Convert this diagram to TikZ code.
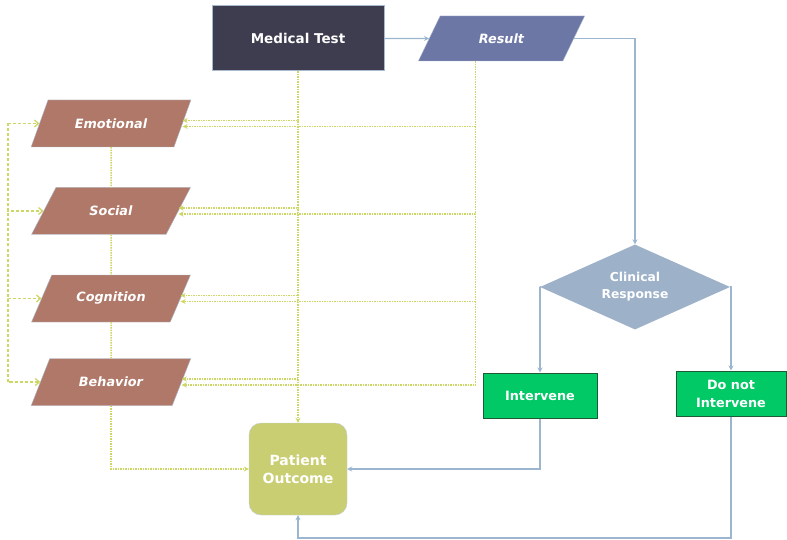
\documentclass[tikz,border=0pt]{standalone}
\usepackage{fontspec}
\setmainfont{DejaVu Sans}
\usepackage{tikz}
\usetikzlibrary{calc,shapes.geometric,arrows.meta,positioning}

\definecolor{testdark}{HTML}{3D3D4F}
\definecolor{resultblue}{HTML}{6C77A6}
\definecolor{factorbrown}{HTML}{B07868}
\definecolor{decisionblue}{HTML}{9DB1C9}
\definecolor{actgreen}{HTML}{00C965}
\definecolor{actedge}{HTML}{1E5A34}
\definecolor{outcomeolive}{HTML}{C9CE72}
\definecolor{flowblue}{HTML}{9CB6CF}
\definecolor{feedlime}{HTML}{CDD766}
\definecolor{edgegray}{HTML}{A9B9CD}

\begin{document}
\begin{tikzpicture}[x=1pt,y=-1pt]

\tikzset{
  testbox/.style={rectangle, draw=edgegray, line width=1pt, fill=testdark, text=white,
                  font=\bfseries\fontsize{13.5}{16}\selectfont,
                  minimum width=172pt, minimum height=65pt},
  resultbox/.style={trapezium, trapezium left angle=55, trapezium right angle=125,
                  trapezium stretches=true, draw=edgegray, fill=resultblue, text=white,
                  font=\bfseries\itshape\fontsize{12.8}{15}\selectfont, inner sep=1pt,
                  minimum width=167pt, minimum height=45pt},
  factor/.style={trapezium, trapezium left angle=50, trapezium right angle=130,
                  trapezium stretches=true, draw=edgegray, fill=factorbrown, text=white,
                  font=\bfseries\itshape\fontsize{12.8}{15}\selectfont, inner sep=1pt,
                  minimum width=160pt, minimum height=47pt},
  decision/.style={diamond, aspect=2.2, fill=decisionblue, text=white, align=center,
                  font=\bfseries\fontsize{12.3}{17}\selectfont,
                  minimum width=190pt, minimum height=85pt, inner sep=0pt},
  actbox/.style={rectangle, draw=actedge, line width=1pt, fill=actgreen, text=white,
                  align=center, font=\bfseries\fontsize{12.8}{18}\selectfont,
                  minimum width=114pt, minimum height=45pt, inner sep=1pt},
  outcome/.style={rectangle, rounded corners=12pt, draw=edgegray!70, fill=outcomeolive,
                  text=white, align=center, font=\bfseries\fontsize{14}{18}\selectfont,
                  minimum width=98pt, minimum height=92pt},
  flow/.style={flowblue, line width=1.4pt, -{Stealth[length=5pt,width=5pt]}},
  feed/.style={feedlime, line width=1.5pt, densely dotted, -{Stealth[length=5pt,width=5pt]}},
  bus/.style={feedlime, line width=1.3pt, densely dashed, -{Straight Barb[length=4pt,width=7pt]}}
}

\useasboundingbox (0,0) rectangle (787,540);

% Main flow
\node[testbox] (medtest) at (298,38.5) {Medical Test};
\node[resultbox] (result) at (501.5,38.5) {Result};
\node[decision] (clinresp) at (635,287) {Clinical\\Response};
\node[actbox] (interv) at (540,395.5) {Intervene};
\node[actbox, minimum width=110pt] (nointerv) at (731,393.5) {Do not\\Intervene};
\node[outcome] (outcome) at (298,469) {Patient\\Outcome};

% Factors
\node[factor] (emo) at (111,123.5) {Emotional};
\node[factor] (soc) at (111,211) {Social};
\node[factor] (cog) at (111,298.5) {Cognition};
\node[factor] (beh) at (111,382) {Behavior};

\coordinate (rtap) at ($(result.south)+(-26,0)$);
\coordinate (lbus) at (8,123.5);
\coordinate (botrow) at (298,538);

% Decision lines
\draw[flow] (medtest) -- (result);
\draw[flow] (result.east) -| (clinresp.north);
\draw[flow] (clinresp.west) -| (interv.north);
\draw[flow] (clinresp.east) -| (nointerv.north);
\draw[flow] (interv.south) |- (outcome.east);
\draw[flow] (nointerv.south) |- (botrow) -- (outcome.south);

% Feedback to the factors
\draw[feed] (medtest.south) -- (outcome.north);
\foreach \f in {emo,soc,cog,beh}{
  \draw[feed] (medtest.south) |- ($(\f.east)+(0,-3)$);
  \draw[feed] (rtap) |- ($(\f.east)+(0,3)$);
  \draw[bus] (lbus) |- (\f.west);
}
\draw[feed,-] (emo.south) -- (soc.north);
\draw[feed,-] (soc.south) -- (cog.north);
\draw[feed,-] (cog.south) -- (beh.north);
\draw[feed] (beh.south) |- (outcome.west);

\end{tikzpicture}
\end{document}
